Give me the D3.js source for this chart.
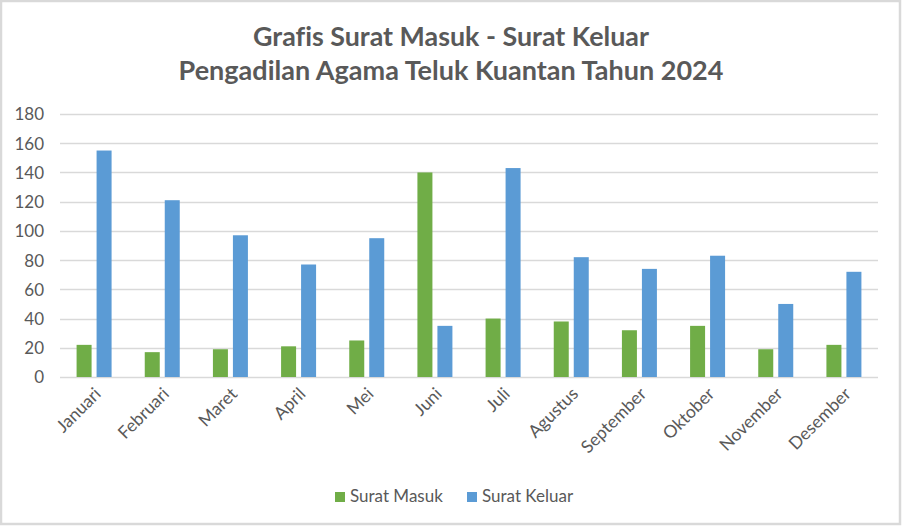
<!DOCTYPE html>
<html>
<head>
<meta charset="utf-8">
<script src="https://cdn.jsdelivr.net/npm/d3@7"></script>
<style>
  html, body { margin: 0; padding: 0; background: #fff; }
  svg { display: block; }
  text { font-family: "Lato", "Liberation Sans", sans-serif; fill: #595959; font-variant-ligatures: none; }
</style>
</head>
<body>
<script>
const months = ["Januari","Februari","Maret","April","Mei","Juni","Juli","Agustus","September","Oktober","November","Desember"];
const seriesNames = ["Surat Masuk","Surat Keluar"];
const suratMasuk  = [22, 17, 19, 21, 25, 140, 40, 38, 32, 35, 19, 22];
const suratKeluar = [155, 121, 97, 77, 95, 35, 143, 82, 74, 83, 50, 72];
const yTicks = [0, 20, 40, 60, 80, 100, 120, 140, 160, 180];
const titleLines = ["Grafis Surat Masuk - Surat Keluar", "Pengadilan Agama Teluk Kuantan Tahun 2024"];
const colors = ["#70AD47", "#5B9BD5"];

const W = 902, H = 527;
const plot = { left: 60, right: 878, top: 114, bottom: 377 };
const FONT = '"Lato", "Liberation Sans", sans-serif';

const svg = d3.select("body").append("svg").attr("width", W).attr("height", H);

svg.append("rect").attr("x", 0).attr("y", 0).attr("width", W).attr("height", H).attr("fill", "#fff");
svg.append("rect").attr("x", 1).attr("y", 1).attr("width", W - 3).attr("height", H - 4)
  .attr("fill", "none").attr("stroke", "#D9D9D9").attr("stroke-width", 2.5);

// Title
const titleTargets = [396, 545];
const titleY = [46, 80];
titleLines.forEach((t, i) => {
  const el = svg.append("text").attr("x", 451).attr("y", titleY[i])
    .attr("text-anchor", "middle").attr("font-weight", "bold")
    .attr("font-size", 24).text(t);
  const len = el.node().getComputedTextLength();
  el.attr("font-size", 24 * titleTargets[i] / len);
});

const x0 = d3.scaleBand().domain(months).range([plot.left, plot.right])
  .paddingInner(0.4866).paddingOuter(0.2433);
const x1 = d3.scaleBand().domain(seriesNames).range([0, x0.bandwidth()]).paddingInner(0.25);
const y = d3.scaleLinear().domain([0, 180]).range([plot.bottom, plot.top]);

// Gridlines
svg.append("g").selectAll("line").data(yTicks).join("line")
  .attr("x1", plot.left).attr("x2", plot.right)
  .attr("y1", d => Math.round(y(d)) + 0.5).attr("y2", d => Math.round(y(d)) + 0.5)
  .attr("stroke", "#D9D9D9").attr("stroke-width", 1.3);

// Y axis labels
const yAxis = d3.axisLeft(y).tickValues(yTicks).tickSize(0).tickPadding(0);
const gy = svg.append("g").attr("transform", `translate(44,0)`).call(yAxis);
gy.select(".domain").remove();
gy.selectAll("text").attr("font-size", 17).attr("fill", "#595959")
  .style("font-family", FONT).attr("dy", "0.35em");

// Bars
const data = months.map((m, i) => ({ m, vals: [suratMasuk[i], suratKeluar[i]] }));
const groups = svg.append("g").selectAll("g").data(data).join("g")
  .attr("transform", d => `translate(${x0(d.m)},0)`);
groups.selectAll("rect").data(d => d.vals.map((v, j) => ({ v, s: seriesNames[j], c: colors[j] })))
  .join("rect")
  .attr("x", d => x1(d.s)).attr("width", x1.bandwidth())
  .attr("y", d => y(d.v)).attr("height", d => y(0) - y(d.v))
  .attr("fill", d => d.c);

// X axis labels
const xAxis = d3.axisBottom(x0).tickSize(0).tickPadding(0);
const gx = svg.append("g").attr("transform", `translate(0,${plot.bottom})`).call(xAxis);
gx.select(".domain").remove();
gx.selectAll(".tick text")
  .attr("font-size", 17.5).attr("fill", "#595959")
  .style("font-family", FONT)
  .attr("text-anchor", "end").attr("dy", 0).attr("y", 0)
  .attr("transform", "translate(8,18) rotate(-45)");

// Legend
const legend = svg.append("g");
const legItems = [{ x: 335, tx: 350 }, { x: 467, tx: 482 }];
seriesNames.forEach((s, i) => {
  legend.append("rect").attr("x", legItems[i].x).attr("y", 492).attr("width", 10).attr("height", 10)
    .attr("fill", colors[i]);
  legend.append("text").attr("x", legItems[i].tx).attr("y", 502).attr("font-size", 17).text(s);
});
</script>
</body>
</html>
